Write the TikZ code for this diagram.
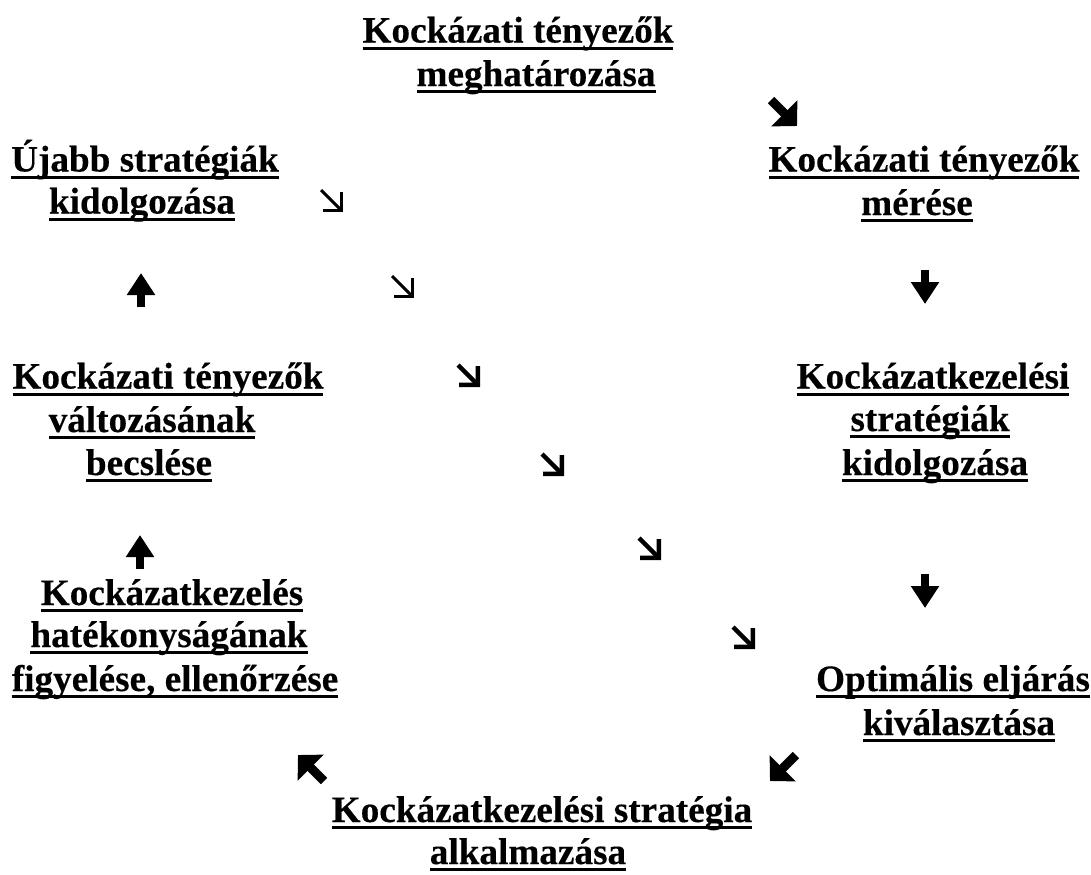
\documentclass[tikz,border=0pt]{standalone}
\usepackage{fontspec}
\setmainfont{Liberation Serif}[BoldFeatures={FakeBold=0.3}]
\usetikzlibrary{arrows.meta}
\newcommand{\ulin}[1]{\setbox0\hbox{#1}\rlap{\copy0}\rule[-3.5pt]{\wd0}{1.5pt}}

\begin{document}
\begin{tikzpicture}[x=0.5pt, y=-0.5pt,
			lbl/.style={anchor=base, inner sep=0pt, font=\fontsize{18.6}{22}\selectfont\bfseries},
			thinarr/.style={line width=1.5pt, -{Straight Barb[length=6.4pt, width=12.8pt, line join=miter]}},
			midarr/.style={line width=2.2pt, -{Straight Barb[length=6.6pt, width=13.2pt, line join=miter]}},
			diagarr/.style={line width=4.5pt, -{Triangle[length=9pt, width=18pt]}},
			vertarr/.style={line width=4pt, -{Triangle[length=11pt, width=13.5pt]}}]
			
			\useasboundingbox (0,0) rectangle (1091,874);
			
			\node[lbl] (meg1) at (518,42.5) {\ulin{Kockázati tényezők}};
			\node[lbl] (meg2) at (536,86) {\ulin{meghatározása}};
			\node[lbl] (mer1) at (924,171.5) {\ulin{Kockázati tényezők}};
			\node[lbl] (mer2) at (917,215) {\ulin{mérése}};
			\node[lbl] (kid1) at (933,388.5) {\ulin{Kockázatkezelési}};
			\node[lbl] (kid2) at (930,431) {\ulin{stratégiák}};
			\node[lbl] (kid3) at (935,475) {\ulin{kidolgozása}};
			\node[lbl] (opt1) at (953,691) {\ulin{Optimális eljárás}};
			\node[lbl] (opt2) at (959,735) {\ulin{kiválasztása}};
			\node[lbl] (alk1) at (542,822) {\ulin{Kockázatkezelési stratégia}};
			\node[lbl] (alk2) at (528,864) {\ulin{alkalmazása}};
			\node[lbl] (fig1) at (172,605) {\ulin{Kockázatkezelés}};
			\node[lbl] (fig2) at (169,647) {\ulin{hatékonyságának}};
			\node[lbl] (fig3) at (175,691) {\ulin{figyelése, ellenőrzése}};
			\node[lbl] (bec1) at (168,388.5) {\ulin{Kockázati tényezők}};
			\node[lbl] (bec2) at (152,432) {\ulin{változásának}};
			\node[lbl] (bec3) at (149,475) {\ulin{becslése}};
			\node[lbl] (uja1) at (145,171.5) {\ulin{Újabb stratégiák}};
			\node[lbl] (uja2) at (142,213.5) {\ulin{kidolgozása}};
			
			% cycle arrows
			\coordinate (a1) at (784,113);
			\coordinate (a2) at (925,287);
			\coordinate (a3) at (925,591);
			\coordinate (a4) at (783,768);
			\coordinate (a5) at (311,768);
			\coordinate (a6) at (140,552);
			\coordinate (a7) at (141,290);
			\draw[diagarr] (a1) ++(-13,-13) -- ++(26,26);
			\draw[vertarr] (a2) ++(0,-17) -- ++(0,34);
			\draw[vertarr] (a3) ++(0,-17) -- ++(0,34);
			\draw[diagarr] (a4) ++(13,-13) -- ++(-26,26);
			\draw[diagarr] (a5) ++(13,13) -- ++(-26,-26);
			\draw[vertarr] (a6) ++(0,17) -- ++(0,-34);
			\draw[vertarr] (a7) ++(0,17) -- ++(0,-34);
			
			% diagonal chain
			\coordinate (c1) at (332,201);
			\coordinate (c2) at (403,287);
			\coordinate (c3) at (469,376);
			\coordinate (c4) at (553,465);
			\coordinate (c5) at (650,549);
			\coordinate (c6) at (744,638);
			\draw[thinarr] (c1) ++(-11,-11) -- ++(22,22);
			\draw[thinarr] (c2) ++(-11,-11) -- ++(22,22);
			\draw[midarr] (c3) ++(-11,-11) -- ++(22,22);
			\draw[midarr] (c4) ++(-11,-11) -- ++(22,22);
			\draw[midarr] (c5) ++(-11,-11) -- ++(22,22);
			\draw[midarr] (c6) ++(-11,-11) -- ++(22,22);
			
		\end{tikzpicture}
\end{document}
